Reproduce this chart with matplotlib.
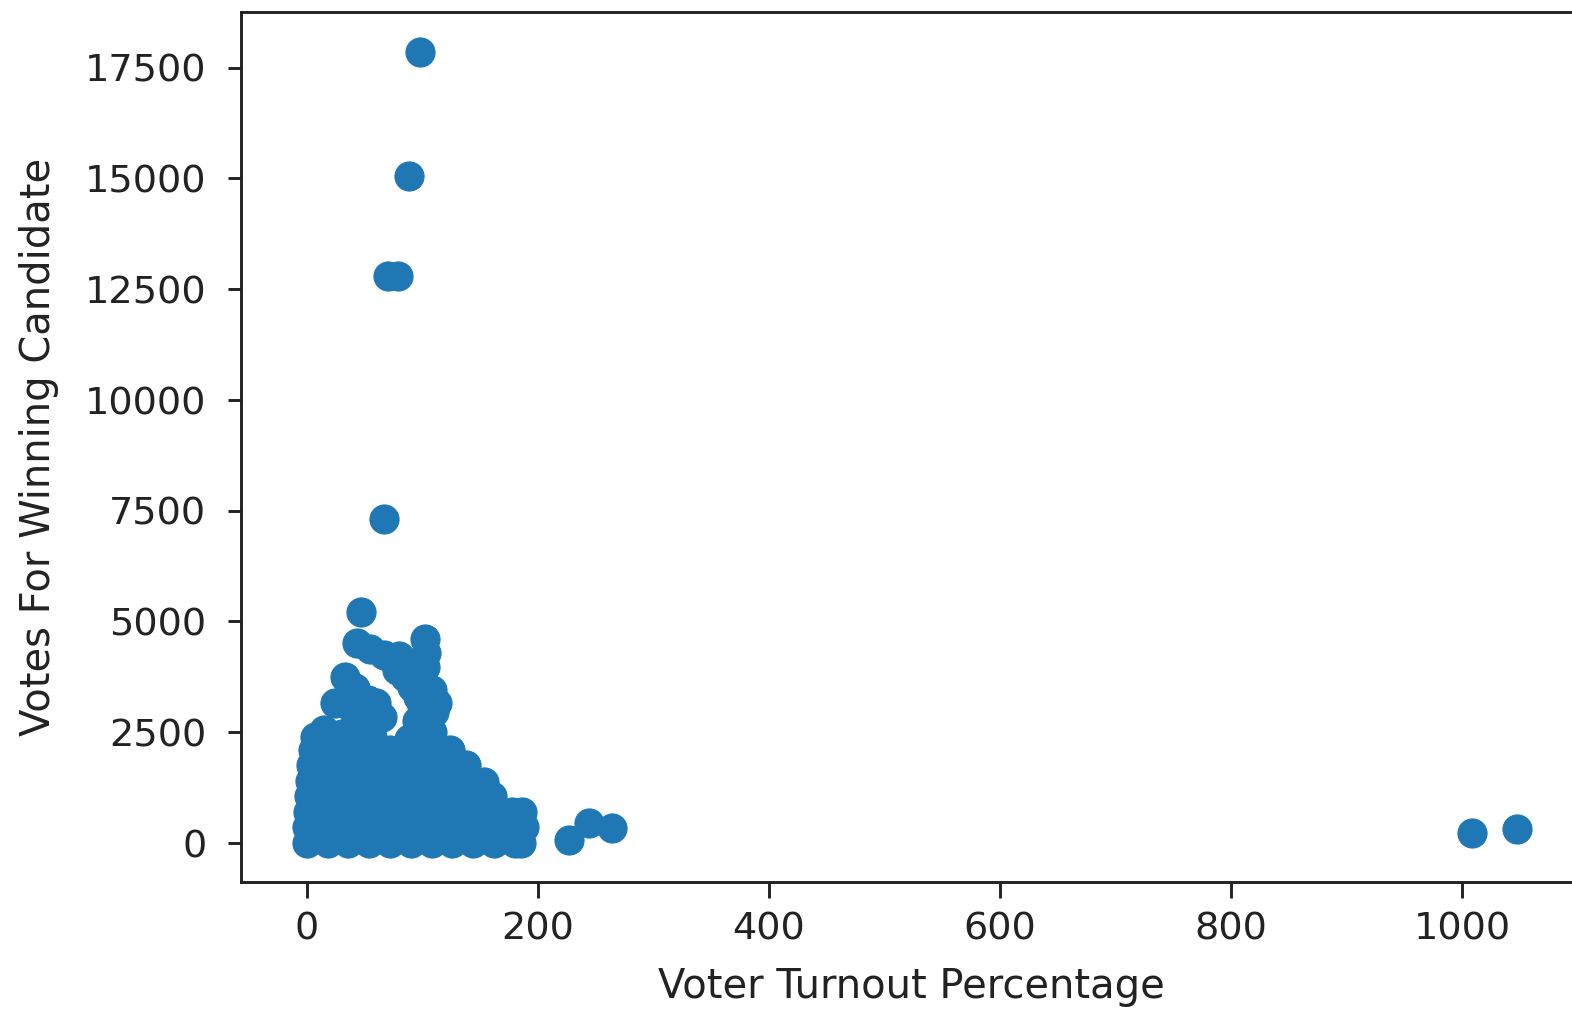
import matplotlib
matplotlib.use("Agg")
import matplotlib.pyplot as plt

# Voter turnout percentage (x) and votes for winning candidate (y)
outlier_turnout = [98, 88, 70, 79, 67, 47, 43, 102, 67, 1009, 1048, 227, 244, 264]
outlier_votes = [17860, 15060, 12800, 12800, 7315, 5215, 4515, 4600, 4250, 225, 316, 68, 450, 340]

# Points making up the dense cluster near the origin
cluster_turnout = [
    0, 18, 36, 54, 72, 90, 108, 126, 144, 162, 180, 185,
    0, 18, 36, 54, 72, 90, 108, 126, 144, 162, 180, 188,
    1, 18, 36, 54, 72, 90, 108, 126, 144, 162, 178, 186,
    2, 18, 36, 54, 72, 90, 108, 126, 144, 160,
    3, 18, 36, 54, 72, 90, 108, 126, 144, 153,
    4, 18, 36, 54, 72, 90, 108, 126, 138,
    5, 20, 36, 54, 72, 90, 108, 124,
    7, 22, 38, 56, 88, 100, 108,
    15, 30, 45, 56, 65, 95, 104,
    24, 53, 40, 108, 113, 100,
    33, 78, 91, 102, 103, 100,
    55, 74, 85, 96, 106, 110, 60, 42, 80, 100,
]
cluster_votes = [
    0, 0, 0, 0, 0, 0, 0, 0, 0, 0, 0, 0,
    350, 350, 350, 350, 350, 350, 350, 350, 350, 350, 350, 350,
    700, 700, 700, 700, 700, 700, 700, 700, 700, 700, 700, 700,
    1050, 1050, 1050, 1050, 1050, 1050, 1050, 1050, 1050, 1050,
    1400, 1400, 1400, 1400, 1400, 1400, 1400, 1400, 1400, 1380,
    1750, 1750, 1750, 1750, 1750, 1750, 1750, 1750, 1750,
    2100, 2100, 2100, 2100, 2100, 2100, 2100, 2100,
    2400, 2380, 2380, 2390, 2350, 2400, 2500,
    2550, 2450, 2600, 2700, 2845, 2750, 2900,
    3160, 3230, 3000, 3455, 3160, 3100,
    3750, 3906, 3522, 3970, 4300, 3700,
    4380, 4150, 3750, 3300, 3250, 2950, 3150, 3500, 4230, 4100,
]

x = cluster_turnout + outlier_turnout
y = cluster_votes + outlier_votes

fig = plt.figure(figsize=(6.0, 3.882), dpi=262)
ax = fig.add_axes([241 / 1572, 135 / 1017, (1581 - 241) / 1572, (882 - 12) / 1017])
ax.scatter(x, y, color="#1f77b4", s=64, linewidths=0.3)
ax.set_xlim(-57, 1103)
ax.set_ylim(-880, 18760)
ax.tick_params(axis="both", labelsize=10.5, colors="#222222", labelcolor="#222222")
ax.tick_params(axis="y", pad=6)
ax.tick_params(axis="x", pad=3.5, length=4.5)
for sp in ax.spines.values():
    sp.set_color("#222222")
ax.set_xlabel("Voter Turnout Percentage", fontsize=11, color="#222222", labelpad=5.5)
ax.set_ylabel("Votes For Winning Candidate", fontsize=11, color="#222222", labelpad=7)
fig.savefig("out.png", dpi=262)
